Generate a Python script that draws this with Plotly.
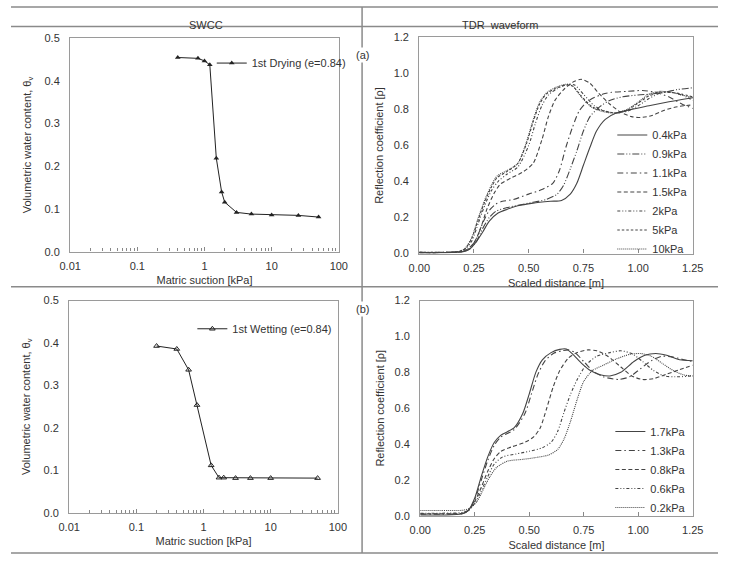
import plotly.graph_objects as go

# ---------------- data ----------------
dry_suction = [0.4, 0.8, 1.0, 1.2, 1.5, 1.8, 2.0, 3, 5, 10, 25, 50]
dry_theta = [0.455, 0.453, 0.447, 0.438, 0.219, 0.140, 0.116, 0.092, 0.088, 0.086, 0.085, 0.081]

wet_suction = [0.2, 0.4, 0.6, 0.8, 1.3, 1.7, 2.0, 3, 5, 10, 50]
wet_theta = [0.393, 0.386, 0.337, 0.254, 0.112, 0.083, 0.083, 0.082, 0.082, 0.082, 0.082]

# TDR waveforms, drying (a)
a_10_x = [0, 0.1, 0.18, 0.21, 0.24, 0.27, 0.30, 0.33, 0.355, 0.40, 0.45, 0.49, 0.52, 0.55, 0.58, 0.62, 0.67, 0.70, 0.74, 0.79, 0.85, 0.90, 0.95, 1.00, 1.05, 1.10, 1.15, 1.20, 1.25]
a_10_y = [0.005, 0.006, 0.01, 0.03, 0.09, 0.20, 0.30, 0.38, 0.43, 0.46, 0.50, 0.62, 0.74, 0.84, 0.89, 0.92, 0.94, 0.93, 0.87, 0.81, 0.785, 0.78, 0.80, 0.84, 0.885, 0.90, 0.895, 0.88, 0.865]
a_5_x = a_10_x
a_5_y = [0.006, 0.006, 0.012, 0.028, 0.085, 0.19, 0.29, 0.37, 0.42, 0.455, 0.50, 0.61, 0.73, 0.83, 0.885, 0.915, 0.935, 0.93, 0.875, 0.815, 0.79, 0.78, 0.795, 0.835, 0.875, 0.895, 0.895, 0.885, 0.87]
a_2_x = [0, 0.1, 0.18, 0.21, 0.24, 0.27, 0.30, 0.33, 0.36, 0.40, 0.45, 0.50, 0.53, 0.56, 0.59, 0.63, 0.68, 0.71, 0.75, 0.80, 0.85, 0.90, 0.95, 1.00, 1.05, 1.10, 1.15, 1.20, 1.25]
a_2_y = [0.008, 0.007, 0.01, 0.025, 0.07, 0.17, 0.27, 0.35, 0.40, 0.44, 0.48, 0.60, 0.72, 0.82, 0.88, 0.915, 0.94, 0.935, 0.885, 0.82, 0.79, 0.78, 0.79, 0.82, 0.86, 0.89, 0.895, 0.88, 0.85]
a_15_x = [0, 0.1, 0.19, 0.22, 0.25, 0.28, 0.31, 0.34, 0.37, 0.42, 0.47, 0.52, 0.56, 0.59, 0.62, 0.66, 0.70, 0.74, 0.78, 0.82, 0.87, 0.92, 0.97, 1.01, 1.06, 1.12, 1.18, 1.25]
a_15_y = [0.005, 0.006, 0.01, 0.025, 0.06, 0.14, 0.25, 0.33, 0.385, 0.42, 0.45, 0.50, 0.63, 0.76, 0.85, 0.91, 0.95, 0.967, 0.945, 0.89, 0.83, 0.785, 0.76, 0.755, 0.765, 0.795, 0.815, 0.825]
a_11_x = [0, 0.1, 0.2, 0.23, 0.26, 0.29, 0.32, 0.35, 0.38, 0.43, 0.50, 0.56, 0.61, 0.64, 0.67, 0.70, 0.73, 0.76, 0.79, 0.84, 0.88, 0.95, 1.02, 1.08, 1.14, 1.20, 1.25]
a_11_y = [0.006, 0.006, 0.012, 0.03, 0.08, 0.17, 0.24, 0.275, 0.29, 0.30, 0.33, 0.355, 0.39, 0.46, 0.59, 0.70, 0.79, 0.835, 0.86, 0.885, 0.895, 0.90, 0.905, 0.895, 0.87, 0.83, 0.805]
a_09_x = [0, 0.1, 0.2, 0.23, 0.26, 0.29, 0.32, 0.35, 0.40, 0.46, 0.52, 0.58, 0.63, 0.66, 0.69, 0.72, 0.75, 0.78, 0.82, 0.87, 0.93, 1.00, 1.06, 1.12, 1.18, 1.25]
a_09_y = [0.007, 0.007, 0.012, 0.025, 0.065, 0.14, 0.20, 0.235, 0.255, 0.27, 0.285, 0.30, 0.33, 0.38, 0.47, 0.57, 0.68, 0.76, 0.81, 0.85, 0.87, 0.88, 0.885, 0.895, 0.91, 0.92]
a_04_x = [0, 0.1, 0.2, 0.23, 0.26, 0.29, 0.32, 0.36, 0.40, 0.45, 0.52, 0.60, 0.65, 0.69, 0.72, 0.75, 0.78, 0.81, 0.85, 0.90, 0.97, 1.05, 1.13, 1.20, 1.25]
a_04_y = [0.004, 0.005, 0.01, 0.025, 0.065, 0.12, 0.18, 0.225, 0.245, 0.265, 0.28, 0.29, 0.295, 0.33, 0.39, 0.49, 0.59, 0.68, 0.745, 0.78, 0.80, 0.82, 0.84, 0.855, 0.865]

# TDR waveforms, wetting (b)
b_17_x = [0, 0.1, 0.19, 0.22, 0.25, 0.28, 0.31, 0.34, 0.37, 0.43, 0.47, 0.50, 0.53, 0.56, 0.60, 0.64, 0.67, 0.70, 0.74, 0.78, 0.83, 0.87, 0.92, 0.98, 1.03, 1.08, 1.13, 1.19, 1.25]
b_17_y = [0.005, 0.005, 0.01, 0.03, 0.10, 0.22, 0.33, 0.41, 0.45, 0.49, 0.57, 0.68, 0.80, 0.87, 0.91, 0.928, 0.93, 0.90, 0.85, 0.81, 0.785, 0.78, 0.80, 0.86, 0.895, 0.905, 0.895, 0.87, 0.865]
b_13_x = [0, 0.1, 0.19, 0.22, 0.25, 0.28, 0.31, 0.34, 0.37, 0.43, 0.48, 0.51, 0.54, 0.57, 0.61, 0.65, 0.68, 0.71, 0.75, 0.79, 0.84, 0.91, 0.96, 1.01, 1.06, 1.11, 1.16, 1.21, 1.25]
b_13_y = [0.01, 0.01, 0.012, 0.028, 0.09, 0.20, 0.31, 0.395, 0.44, 0.48, 0.57, 0.68, 0.79, 0.86, 0.905, 0.92, 0.925, 0.91, 0.86, 0.81, 0.775, 0.76, 0.775, 0.82, 0.865, 0.89, 0.885, 0.87, 0.86]
b_08_x = [0, 0.1, 0.19, 0.22, 0.25, 0.28, 0.31, 0.34, 0.37, 0.42, 0.48, 0.52, 0.55, 0.58, 0.61, 0.64, 0.68, 0.72, 0.77, 0.81, 0.86, 0.92, 0.97, 1.02, 1.07, 1.13, 1.19, 1.25]
b_08_y = [0.012, 0.012, 0.015, 0.03, 0.08, 0.16, 0.25, 0.32, 0.36, 0.385, 0.41, 0.44, 0.49, 0.60, 0.72, 0.81, 0.88, 0.91, 0.925, 0.92, 0.89, 0.83, 0.78, 0.76, 0.765, 0.79, 0.815, 0.84]
b_06_x = [0, 0.1, 0.19, 0.22, 0.25, 0.28, 0.31, 0.34, 0.38, 0.44, 0.50, 0.56, 0.60, 0.63, 0.66, 0.69, 0.72, 0.76, 0.81, 0.87, 0.92, 0.97, 1.02, 1.07, 1.12, 1.17, 1.25]
b_06_y = [0.015, 0.015, 0.018, 0.03, 0.07, 0.14, 0.22, 0.29, 0.33, 0.345, 0.36, 0.38, 0.41, 0.47, 0.58, 0.68, 0.76, 0.84, 0.89, 0.91, 0.92, 0.905, 0.86, 0.81, 0.78, 0.775, 0.78]
b_02_x = [0, 0.1, 0.2, 0.23, 0.26, 0.29, 0.32, 0.35, 0.40, 0.47, 0.53, 0.59, 0.63, 0.66, 0.69, 0.72, 0.75, 0.79, 0.84, 0.90, 0.96, 1.01, 1.06, 1.11, 1.16, 1.21, 1.25]
b_02_y = [0.03, 0.03, 0.032, 0.045, 0.08, 0.15, 0.22, 0.27, 0.305, 0.315, 0.325, 0.34, 0.37, 0.43, 0.53, 0.65, 0.75, 0.81, 0.84, 0.875, 0.90, 0.905, 0.89, 0.85, 0.81, 0.785, 0.78]

swcc_ticks = [0.01, 0.1, 1, 10, 100]
swcc_ticklabels = ["0.01", "0.1", "1", "10", "100"]

# ---------------- figure ----------------
W, H = 729, 562
def px_x(p): return p / W
def px_y(p): return 1 - p / H

LC = "#333333"
FONT = "Liberation Sans, Arial, sans-serif"

fig = go.Figure()

# SWCC (a)
fig.add_trace(go.Scatter(x=dry_suction, y=dry_theta, mode="lines+markers",
                         name="1st Drying (e=0.84)", line=dict(color="#222", width=1),
                         marker=dict(symbol="triangle-up", size=5, color="#222"),
                         xaxis="x", yaxis="y", legend="legend", showlegend=True))
# SWCC (b)
fig.add_trace(go.Scatter(x=wet_suction, y=wet_theta, mode="lines+markers",
                         name="1st Wetting (e=0.84)", line=dict(color="#222", width=1),
                         marker=dict(symbol="triangle-up-open", size=5, color="#222", line=dict(width=1)),
                         xaxis="x3", yaxis="y3", legend="legend3", showlegend=True))

dash_solid = "solid"
dash_ldd = "7px,2px,1px,2px,1px,2px"
dash_dd = "6px,3px,1.5px,3px"
dash_dash = "4px,2.5px"
dash_sdd = "3px,2px,1px,2px,1px,2px"
dash_short = "2.5px,2px"
dash_dot = "1px,1px"

a_series = [
    ("0.4kPa", a_04_x, a_04_y, dash_solid),
    ("0.9kPa", a_09_x, a_09_y, dash_ldd),
    ("1.1kPa", a_11_x, a_11_y, dash_dd),
    ("1.5kPa", a_15_x, a_15_y, dash_dash),
    ("2kPa", a_2_x, a_2_y, dash_sdd),
    ("5kPa", a_5_x, a_5_y, dash_short),
    ("10kPa", a_10_x, a_10_y, dash_dot),
]
for name, xs, ys, d in a_series:
    fig.add_trace(go.Scatter(x=xs, y=ys, mode="lines", name=name, showlegend=True,
                             line=dict(color="#444", width=1.1, dash=d, shape="spline", smoothing=0.7),
                             xaxis="x2", yaxis="y2", legend="legend2"))

b_series = [
    ("1.7kPa", b_17_x, b_17_y, dash_solid),
    ("1.3kPa", b_13_x, b_13_y, dash_dd),
    ("0.8kPa", b_08_x, b_08_y, dash_dash),
    ("0.6kPa", b_06_x, b_06_y, dash_sdd),
    ("0.2kPa", b_02_x, b_02_y, dash_dot),
]
for name, xs, ys, d in b_series:
    fig.add_trace(go.Scatter(x=xs, y=ys, mode="lines", name=name, showlegend=True,
                             line=dict(color="#444", width=1.1, dash=d, shape="spline", smoothing=0.7),
                             xaxis="x4", yaxis="y4", legend="legend4"))

tickfont = dict(family=FONT, size=11, color=LC)
titlefont = dict(family=FONT, size=11, color=LC)
frame = dict(showline=True, mirror=True, linecolor="#9a9a9a", linewidth=1.3,
             showgrid=False, zeroline=False, tickfont=tickfont)

log_x = dict(type="log", range=[-2, 2], tickvals=swcc_ticks, ticktext=swcc_ticklabels,
             ticks="inside", ticklen=4, tickcolor="#888", ticklabelstandoff=4,
             minor=dict(ticks="inside", ticklen=3, tickcolor="#888", dtick="D1", showgrid=False),
             title=dict(text="Matric suction [kPa]", font=titlefont, standoff=5), **frame)
lin_x = dict(range=[0, 1.25], dtick=0.25, tickformat=".2f", ticks="inside", ticklen=4,
             tickcolor="#888", ticklabelstandoff=4,
             title=dict(text="Scaled distance [m]", font=titlefont, standoff=6), **frame)
swcc_y = dict(range=[0, 0.5], dtick=0.1, tickformat=".1f", ticks="", ticklabelstandoff=7,
              title=dict(text="Volumetric water content, θ<sub>v</sub>", font=titlefont, standoff=10), **frame)
tdr_y = dict(range=[0, 1.2], dtick=0.2, tickformat=".1f", ticks="", ticklabelstandoff=7,
             title=dict(text="Reflection coefficient [ρ]", font=titlefont, standoff=7), **frame)

leg_common = dict(xanchor="left", yanchor="top", bgcolor="rgba(0,0,0,0)",
                  font=dict(family=FONT, size=11, color=LC), itemwidth=30)

fig.update_layout(
    width=W, height=H, margin=dict(l=0, r=0, t=0, b=0),
    paper_bgcolor="white", plot_bgcolor="white", showlegend=True,
    font=dict(family=FONT, size=11, color=LC),
    xaxis=dict(domain=[px_x(61), px_x(338)], anchor="y", **log_x),
    yaxis=dict(domain=[px_y(251), px_y(33)], anchor="x", **swcc_y),
    xaxis2=dict(domain=[px_x(421), px_x(703)], anchor="y2", **lin_x),
    yaxis2=dict(domain=[px_y(253), px_y(32)], anchor="x2", **tdr_y),
    xaxis3=dict(domain=[px_x(60), px_x(337)], anchor="y3", **log_x),
    yaxis3=dict(domain=[px_y(518), px_y(301)], anchor="x3", **swcc_y),
    xaxis4=dict(domain=[px_x(422), px_x(703)], anchor="y4", **lin_x),
    yaxis4=dict(domain=[px_y(521), px_y(301)], anchor="x4", **tdr_y),
    legend=dict(x=px_x(207), y=px_y(43.5), **leg_common),
    legend3=dict(x=px_x(187), y=px_y(315), **leg_common),
    legend2=dict(x=px_x(620), y=px_y(117), **leg_common),
    legend4=dict(x=px_x(618), y=px_y(420), **leg_common),
)

# table rules
rule = dict(color="#8a8a8a", width=1.5)
for yy in [1, 21, 287, 559]:
    fig.add_shape(type="line", xref="paper", yref="paper", x0=0, x1=1, y0=px_y(yy), y1=px_y(yy), line=rule)
fig.add_shape(type="line", xref="paper", yref="paper", x0=px_x(362), x1=px_x(362), y0=px_y(1), y1=px_y(559), line=rule)

ann_font = dict(family=FONT, size=11, color=LC)
fig.add_annotation(text="SWCC", xref="paper", yref="paper", x=px_x(181), y=px_y(11), showarrow=False, font=ann_font)
fig.add_annotation(text="TDR  waveform", xref="paper", yref="paper", x=px_x(545), y=px_y(11), showarrow=False, font=ann_font)
fig.add_annotation(text="(a)", xref="paper", yref="paper", x=px_x(362), y=px_y(42), showarrow=False,
                   font=ann_font, bgcolor="white")
fig.add_annotation(text="(b)", xref="paper", yref="paper", x=px_x(362), y=px_y(310), showarrow=False,
                   font=ann_font, bgcolor="white")

fig.write_html("out.html")
